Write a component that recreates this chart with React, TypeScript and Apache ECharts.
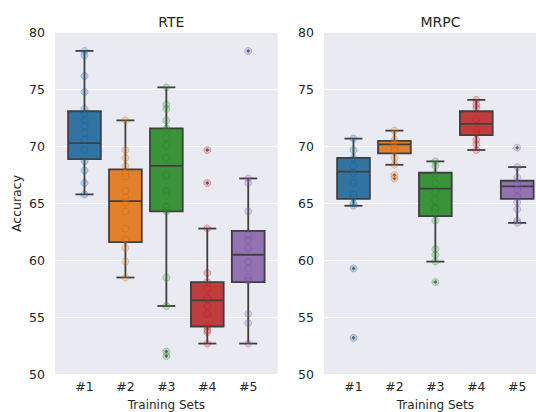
import React, { useEffect, useRef } from "react";
import * as echarts from "echarts";

const categories = ["#1", "#2", "#3", "#4", "#5"];
const yTicks = { min: 50, max: 80, step: 5 };

// box stats: [min whisker, Q1, median, Q3, max whisker]
const rteBoxes = [
  [65.8, 68.9, 70.3, 73.1, 78.4],
  [58.5, 61.6, 65.2, 68.0, 72.3],
  [56.0, 64.3, 68.3, 71.6, 75.2],
  [52.7, 54.2, 56.5, 58.1, 62.8],
  [52.7, 58.1, 60.5, 62.6, 67.2],
];
const rteOutliers = [[], [], [52.0, 51.6], [69.7, 66.8], [78.4]];
const rtePoints = [
  [78.4, 78.0, 76.2, 74.8, 73.3, 72.9, 72.3, 71.8, 71.2, 70.6, 69.7, 68.7, 67.9, 66.8, 65.8],
  [72.3, 69.7, 69.0, 68.3, 67.7, 67.4, 66.1, 65.5, 65.1, 64.3, 62.8, 61.8, 61.1, 59.9, 58.5],
  [75.2, 73.7, 73.3, 72.3, 71.6, 70.8, 70.1, 69.0, 67.5, 66.1, 65.7, 64.7, 64.3, 58.5, 56.0, 52.0, 51.6],
  [69.7, 66.8, 62.8, 58.9, 58.1, 57.5, 56.7, 56.0, 55.3, 54.2, 53.9, 53.7, 52.7],
  [78.4, 67.2, 66.8, 64.3, 62.2, 61.8, 61.1, 59.9, 59.3, 58.5, 58.2, 55.3, 54.5, 52.7],
];

const mrpcBoxes = [
  [64.8, 65.4, 67.8, 69.0, 70.7],
  [68.4, 69.4, 70.2, 70.5, 71.4],
  [59.9, 63.9, 66.3, 67.7, 68.7],
  [69.7, 71.0, 72.0, 73.1, 74.1],
  [63.3, 65.4, 66.5, 67.0, 68.2],
];
const mrpcOutliers = [[59.3, 53.2], [67.5, 67.2], [58.1], [], [69.9]];
const mrpcPoints = [
  [70.7, 69.7, 69.0, 68.3, 67.7, 66.8, 65.8, 65.5, 65.0, 64.8, 59.3, 53.2],
  [71.4, 70.6, 70.3, 69.9, 69.6, 69.0, 68.4, 67.5, 67.2],
  [68.7, 68.3, 67.6, 66.8, 66.0, 65.3, 64.6, 64.5, 64.2, 63.5, 61.0, 60.5, 59.9, 58.1],
  [74.1, 73.7, 73.4, 72.4, 71.5, 71.2, 70.6, 70.2, 69.7],
  [69.9, 68.2, 67.3, 66.7, 66.2, 65.6, 65.1, 64.5, 63.5, 63.3],
];

const boxFills = ["#3274a1", "#e1812c", "#3a923a", "#c03d3e", "#9372b2"];
const pointRgb = [
  [31, 119, 180],
  [255, 127, 14],
  [44, 160, 44],
  [214, 39, 40],
  [148, 103, 189],
];
const LINE = "#3f3f3f";
const TEXT = "#262626";
const FONT = "DejaVu Sans";

function renderBox(params: any, api: any) {
  const x = api.value(0);
  const mn = api.value(1), q1 = api.value(2), med = api.value(3), q3 = api.value(4), mx = api.value(5);
  const unit = api.size([1, 0])[0];
  const half = unit * 0.4;
  const cap = unit * 0.22;
  const pMin = api.coord([x, mn]);
  const pQ1 = api.coord([x, q1]);
  const pMed = api.coord([x, med]);
  const pQ3 = api.coord([x, q3]);
  const pMax = api.coord([x, mx]);
  const cx = pMed[0];
  const ls = { stroke: LINE, lineWidth: 1.8 };
  return {
    type: "group",
    children: [
      { type: "line", shape: { x1: cx, y1: pQ1[1], x2: cx, y2: pMin[1] }, style: ls },
      { type: "line", shape: { x1: cx, y1: pQ3[1], x2: cx, y2: pMax[1] }, style: ls },
      { type: "line", shape: { x1: cx - cap, y1: pMin[1], x2: cx + cap, y2: pMin[1] }, style: ls },
      { type: "line", shape: { x1: cx - cap, y1: pMax[1], x2: cx + cap, y2: pMax[1] }, style: ls },
      {
        type: "rect",
        shape: { x: cx - half, y: pQ3[1], width: half * 2, height: pQ1[1] - pQ3[1] },
        style: { fill: boxFills[params.dataIndex], stroke: LINE, lineWidth: 1.8 },
      },
      { type: "line", shape: { x1: cx - half, y1: pMed[1], x2: cx + half, y2: pMed[1] }, style: ls },
    ],
  };
}

function panelSeries(idx: number, boxes: number[][], points: number[][], outliers: number[][]) {
  return [
    {
      type: "custom",
      xAxisIndex: idx,
      yAxisIndex: idx,
      renderItem: renderBox,
      encode: { x: 0, y: [1, 2, 3, 4, 5] },
      data: boxes.map((b, i) => [i, ...b]),
      z: 2,
    },
    {
      type: "scatter",
      xAxisIndex: idx,
      yAxisIndex: idx,
      symbol: "diamond",
      symbolSize: 4,
      itemStyle: { color: LINE },
      data: outliers.flatMap((arr, i) => arr.map((v) => [i, v])),
      z: 3,
    },
    {
      type: "scatter",
      xAxisIndex: idx,
      yAxisIndex: idx,
      symbolSize: 7,
      data: points.flatMap((arr, i) =>
        arr.map((v) => ({
          value: [i, v],
          itemStyle: {
            color: `rgba(${pointRgb[i].join(",")},0.3)`,
            borderColor: `rgba(${pointRgb[i].map((c) => Math.round(c * 0.7)).join(",")},0.35)`,
            borderWidth: 1,
          },
        }))
      ),
      z: 4,
    },
  ];
}

function xAxis(gridIndex: number) {
  return {
    type: "value",
    gridIndex,
    min: -0.72,
    max: 4.72,
    name: "Training Sets",
    nameLocation: "middle",
    nameGap: 18,
    nameTextStyle: { color: TEXT, fontSize: 12, fontFamily: FONT, lineHeight: 14 },
    axisLine: { show: false },
    axisTick: { show: false },
    splitLine: { show: false },
    axisLabel: {
      customValues: [0, 1, 2, 3, 4],
      formatter: (v: number) => categories[Math.round(v)],
      color: TEXT,
      fontSize: 12.5,
      fontFamily: FONT,
      margin: 6,
    },
  };
}

function yAxis(gridIndex: number, name: string) {
  return {
    type: "value",
    gridIndex,
    min: yTicks.min,
    max: yTicks.max,
    interval: yTicks.step,
    name,
    nameLocation: "middle",
    nameGap: 32,
    nameTextStyle: { color: TEXT, fontSize: 12.5, fontFamily: FONT },
    axisLine: { show: false },
    axisTick: { show: false },
    splitLine: { show: true, lineStyle: { color: "#ffffff", width: 1.2 } },
    axisLabel: { color: TEXT, fontSize: 12.5, fontFamily: FONT, margin: 10 },
  };
}

const gridBase = {
  top: 32.7,
  width: 222.7,
  height: 341.6,
  show: true,
  backgroundColor: "#eaeaf2",
  borderWidth: 0,
  containLabel: false,
  outerBoundsMode: "none",
};

export default function App() {
  const ref = useRef<HTMLDivElement>(null);
  useEffect(() => {
    if (!ref.current) return;
    const chart = echarts.init(ref.current, null, { renderer: "svg" });
    chart.setOption({
      animation: false,
      backgroundColor: "#ffffff",
      title: [
        {
          text: "RTE",
          left: 166.4,
          top: 10,
          textAlign: "center",
          textStyle: { color: TEXT, fontSize: 14, fontWeight: "normal", fontFamily: FONT },
        },
        {
          text: "MRPC",
          left: 435.4,
          top: 10,
          textAlign: "center",
          textStyle: { color: TEXT, fontSize: 14, fontWeight: "normal", fontFamily: FONT },
        },
      ],
      grid: [
        { ...gridBase, left: 55 },
        { ...gridBase, left: 324 },
      ],
      xAxis: [xAxis(0), xAxis(1)],
      yAxis: [yAxis(0, "Accuracy"), yAxis(1, "")],
      series: [
        ...panelSeries(0, rteBoxes, rtePoints, rteOutliers),
        ...panelSeries(1, mrpcBoxes, mrpcPoints, mrpcOutliers),
      ],
    });
    return () => chart.dispose();
  }, []);
  return <div ref={ref} style={{ position: "fixed", left: 0, top: 0, width: 536, height: 412 }} />;
}
